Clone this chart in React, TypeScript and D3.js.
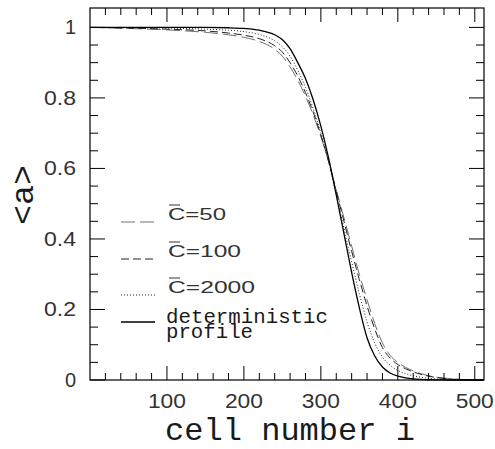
import React from "react";
import * as d3 from "d3";

const cells = [0, 50, 100, 150, 180, 200, 220, 240, 250, 260, 270, 280, 290, 300, 310, 320, 330, 340, 350, 360, 370, 380, 390, 400, 410, 420, 430, 440, 450, 460, 470, 480, 490, 500, 512];

const deterministic = [1, 1, 1, 1, 0.999, 0.997, 0.992, 0.979, 0.965, 0.94, 0.9, 0.855, 0.795, 0.72, 0.63, 0.525, 0.415, 0.305, 0.205, 0.12, 0.068, 0.037, 0.02, 0.011, 0.006, 0.003, 0.0015, 0.0007, 0.0003, 0.0001, 0, 0, 0, 0, 0];
const c2000 = [1, 0.999, 0.998, 0.995, 0.992, 0.988, 0.98, 0.962, 0.945, 0.918, 0.878, 0.83, 0.77, 0.7, 0.62, 0.525, 0.43, 0.335, 0.245, 0.165, 0.105, 0.065, 0.042, 0.027, 0.018, 0.012, 0.008, 0.005, 0.003, 0.002, 0.001, 0.0005, 0, 0, 0];
const c100 = [1, 0.998, 0.995, 0.99, 0.984, 0.978, 0.968, 0.948, 0.93, 0.9, 0.862, 0.815, 0.76, 0.695, 0.62, 0.535, 0.45, 0.365, 0.285, 0.21, 0.145, 0.092, 0.062, 0.044, 0.032, 0.023, 0.016, 0.011, 0.007, 0.0045, 0.0025, 0.0012, 0.0005, 0, 0];
const c50 = [1, 0.997, 0.993, 0.986, 0.979, 0.972, 0.96, 0.938, 0.918, 0.888, 0.85, 0.805, 0.752, 0.69, 0.62, 0.54, 0.46, 0.38, 0.3, 0.228, 0.16, 0.105, 0.07, 0.05, 0.036, 0.026, 0.018, 0.012, 0.008, 0.0055, 0.0035, 0.002, 0.001, 0.0005, 0];

const xTickLabels = ["100", "200", "300", "400", "500"];
const yTickLabels = ["0", "0.2", "0.4", "0.6", "0.8", "1"];

const legendLabels = ["50", "100", "2000"];

const W = 495, H = 449;
const M = { left: 90, right: 484, top: 8, bottom: 380 };

export default function App() {
  const x = d3.scaleLinear().domain([0, 512]).range([M.left, M.right]);
  const y = d3.scaleLinear().domain([0, 1.055]).range([M.bottom, M.top]);

  const line = d3
    .line<number>()
    .x((_, i) => x(cells[i]))
    .y((d) => y(d))
    .curve(d3.curveMonotoneX);

  const series = [
    { vals: c50, stroke: "#707070", dash: "14 5", w: 1 },
    { vals: c100, stroke: "#222", dash: "8 4", w: 1 },
    { vals: c2000, stroke: "#222", dash: "1 2", w: 1 },
    { vals: deterministic, stroke: "#000", dash: null, w: 1.3 },
  ];

  const xMinor = d3.range(20, 501, 20);
  const yMinor = d3.range(0, 21).map((k) => k * 0.05);

  const legendY = [220, 257, 293];
  const legendTL = [58, 73, 87];

  return (
    <svg width={W} height={H} style={{ display: "block", position: "absolute", left: 0, top: 0 }}>
      <rect x={0} y={0} width={W} height={H} fill="#fff" />
      {series.map((s, k) => (
        <path
          key={k}
          d={line(s.vals) || ""}
          fill="none"
          stroke={s.stroke}
          strokeWidth={s.w}
          strokeDasharray={s.dash || undefined}
        />
      ))}
      <rect x={M.left} y={M.top} width={M.right - M.left} height={M.bottom - M.top} fill="none" stroke="#000" strokeWidth={1.2} />
      {xMinor.map((v) => {
        const major = v % 100 === 0;
        const len = major ? 14 : 7;
        return (
          <g key={"xt" + v} stroke="#000" strokeWidth={1}>
            <line x1={x(v)} x2={x(v)} y1={M.bottom} y2={M.bottom - len} />
            <line x1={x(v)} x2={x(v)} y1={M.top} y2={M.top + len} />
          </g>
        );
      })}
      {yMinor.map((v, k) => {
        const major = k % 4 === 0;
        const len = major ? 15 : 8;
        return (
          <g key={"yt" + k} stroke="#000" strokeWidth={1}>
            <line x1={M.left} x2={M.left + len} y1={y(v)} y2={y(v)} />
            <line x1={M.right} x2={M.right - len} y1={y(v)} y2={y(v)} />
          </g>
        );
      })}
      {xTickLabels.map((t) => (
        <text
          key={"xl" + t}
          x={x(+t)}
          y={408}
          textAnchor="middle"
          fontFamily="Liberation Sans"
          fontSize={20}
          textLength={38}
          lengthAdjust="spacingAndGlyphs"
          fill="#333"
        >
          {t}
        </text>
      ))}
      {yTickLabels.map((t) => (
        <text
          key={"yl" + t}
          x={76}
          y={y(+t) + 7}
          textAnchor="end"
          fontFamily="Liberation Sans"
          fontSize={20}
          textLength={t.length > 1 ? 32 : undefined}
          lengthAdjust="spacingAndGlyphs"
          fill="#333"
        >
          {t}
        </text>
      ))}
      <text
        x={290}
        y={440}
        textAnchor="middle"
        fontFamily="Liberation Mono"
        fontSize={32}
        textLength={250}
        lengthAdjust="spacingAndGlyphs"
        fill="#1a1a1a"
      >
        cell number i
      </text>
      <text
        transform={`translate(33,195) rotate(-90)`}
        textAnchor="middle"
        fontFamily="Liberation Mono"
        fontSize={31}
        textLength={60}
        lengthAdjust="spacingAndGlyphs"
        fill="#1a1a1a"
      >
        {"<a>"}
      </text>
      {legendLabels.map((lab, k) => (
        <g key={"lg" + k}>
          <line
            x1={121}
            x2={156}
            y1={legendY[k] + 2}
            y2={legendY[k] + 2}
            stroke={series[k].stroke}
            strokeWidth={1}
            strokeDasharray={series[k].dash || undefined}
          />
          <text
            x={168}
            y={legendY[k]}
            fontFamily="Liberation Sans"
            fontSize={16}
            textLength={legendTL[k]}
            lengthAdjust="spacingAndGlyphs"
            fill="#333"
          >
            {"C=" + lab}
          </text>
          <line x1={169} x2={180} y1={legendY[k] - 15} y2={legendY[k] - 15} stroke="#333" strokeWidth={1} />
        </g>
      ))}
      <line x1={121} x2={155} y1={322} y2={322} stroke="#000" strokeWidth={1.3} />
      <text x={166} y={323} fontFamily="Liberation Mono" fontSize={20} textLength={162} lengthAdjust="spacingAndGlyphs" fill="#1a1a1a">
        deterministic
      </text>
      <text x={166} y={338} fontFamily="Liberation Mono" fontSize={20} textLength={87} lengthAdjust="spacingAndGlyphs" fill="#1a1a1a">
        profile
      </text>
    </svg>
  );
}
